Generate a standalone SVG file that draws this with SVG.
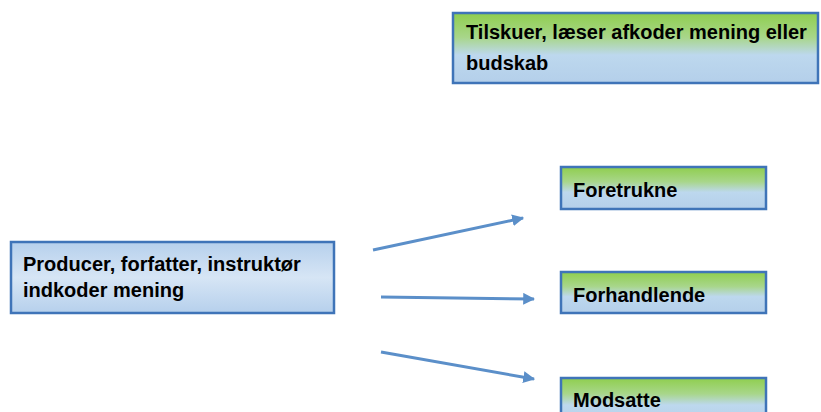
<svg xmlns="http://www.w3.org/2000/svg" width="821" height="412" viewBox="0 0 821 412">
<defs>
<linearGradient id="gb" x1="0" y1="0" x2="0" y2="1">
<stop offset="0" stop-color="#8fce4e"/>
<stop offset="0.35" stop-color="#a8d68a"/>
<stop offset="0.6" stop-color="#bdd8ee"/>
<stop offset="1" stop-color="#b4cfea"/>
</linearGradient>
<linearGradient id="bb" x1="0" y1="0" x2="0" y2="1">
<stop offset="0" stop-color="#b6d0ec"/>
<stop offset="0.5" stop-color="#d6e5f5"/>
<stop offset="1" stop-color="#b6d0ec"/>
</linearGradient>
<marker id="ah" viewBox="0 0 10 10" refX="9" refY="5" markerWidth="4" markerHeight="4" orient="auto" markerUnits="strokeWidth">
<path d="M0,0 L10,5 L0,10 z" fill="#5b8fc9"/>
</marker>
</defs>
<style>
.box{stroke:#3f74b8;stroke-width:2.5}
.g{fill:url(#gb)}
.b{fill:url(#bb)}
text{font-family:"Liberation Sans",Arial,sans-serif;font-weight:bold;font-size:20px;fill:#000}
.c line{stroke:#5b8fc9;stroke-width:3;marker-end:url(#ah)}
</style>
<rect width="821" height="412" fill="#fff"/>
<g id="n-tilskuer">
<rect class="box g" x="453" y="13" width="365" height="70"/>
<text x="466" y="39">Tilskuer, læser afkoder mening eller</text>
<text x="466" y="69.5">budskab</text>
</g>
<g id="n-producer">
<rect class="box b" x="11" y="242" width="323" height="71"/>
<text x="23" y="271">Producer, forfatter, instruktør</text>
<text x="23" y="297">indkoder mening</text>
</g>
<g id="n-foretrukne">
<rect class="box g" x="561" y="167" width="205" height="42"/>
<text x="573" y="197">Foretrukne</text>
</g>
<g id="n-forhandlende">
<rect class="box g" x="561" y="272" width="205" height="41"/>
<text x="573" y="302">Forhandlende</text>
</g>
<g id="n-modsatte">
<rect class="box g" x="561" y="378" width="205" height="45"/>
<text x="573" y="407">Modsatte</text>
</g>
<g id="connectors" class="c">
<line x1="373" y1="250" x2="523" y2="218"/>
<line x1="381" y1="297" x2="534" y2="299"/>
<line x1="381" y1="352" x2="534" y2="379"/>
</g>
</svg>
